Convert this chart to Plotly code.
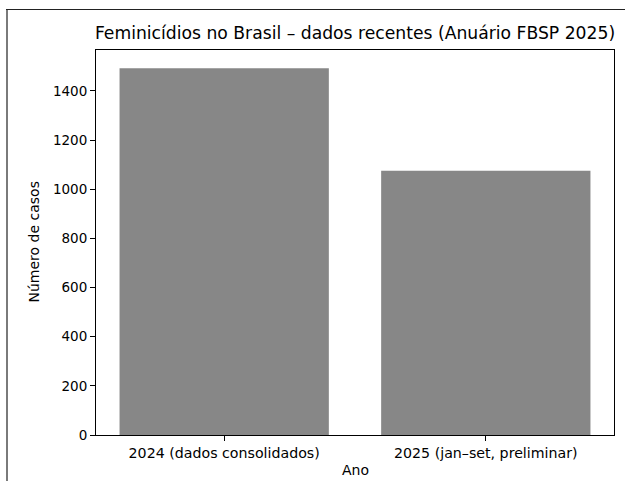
import plotly.graph_objects as go

categories = ["2024 (dados consolidados)", "2025 (jan–set, preliminar)"]
values = [1492, 1075]
y_ticks = [0, 200, 400, 600, 800, 1000, 1200, 1400]

W, H = 625, 481
L, R, T, B = 96, 11, 50, 46
pw, ph = W - L - R, H - T - B

def px(x):
    return (x - L) / pw

def py(y):
    return (H - B - y) / ph

font = "DejaVu Sans"

fig = go.Figure(go.Bar(
    x=[0, 1], y=values, width=0.8,
    marker=dict(color="#878787", line=dict(width=0)),
))

fig.update_layout(
    width=W, height=H,
    margin=dict(l=L, r=R, t=T, b=B),
    paper_bgcolor="white", plot_bgcolor="white",
    font=dict(family=font, size=13, color="black"),
    showlegend=False,
    title=dict(text="Feminicídios no Brasil – dados recentes (Anuário FBSP 2025)",
               x=(L + pw / 2) / W, xanchor="center", y=1 - 33 / H, yanchor="middle",
               font=dict(size=17.2, family=font, color="black")),
    xaxis=dict(range=[-0.49, 1.49], tickmode="array", tickvals=[0, 1], ticktext=categories,
               showgrid=False, zeroline=False, showline=True, linecolor="black", linewidth=1,
               mirror=True, ticks="outside", ticklen=5, tickcolor="black",
               tickfont=dict(size=14.2, family=font)),
    yaxis=dict(range=[0, 1566.6], tickmode="array", tickvals=y_ticks,
               showgrid=False, zeroline=False, showline=True, linecolor="black", linewidth=1,
               mirror=True, ticks="outside", ticklen=5, tickcolor="black",
               tickfont=dict(size=13.5, family=font)),
    annotations=[
        dict(text="Ano", xref="paper", yref="paper", x=0.5, y=py(470), xanchor="center",
             yanchor="middle", showarrow=False, font=dict(size=14, family=font)),
        dict(text="Número de casos", xref="paper", yref="paper", x=px(33), y=0.5,
             xanchor="center", yanchor="middle", textangle=-90, showarrow=False,
             font=dict(size=14, family=font)),
    ],
    shapes=[
        dict(type="line", xref="paper", yref="paper", x0=px(7), x1=px(7), y0=py(9), y1=py(490),
             line=dict(color="#7a7a7a", width=2)),
        dict(type="line", xref="paper", yref="paper", x0=px(6), x1=px(640), y0=py(9.5), y1=py(9.5),
             line=dict(color="#222222", width=1)),
    ],
)

fig.write_html("out.html", config={"displayModeBar": False},
               post_script="document.body.style.margin='0';document.body.style.overflow='hidden';")
